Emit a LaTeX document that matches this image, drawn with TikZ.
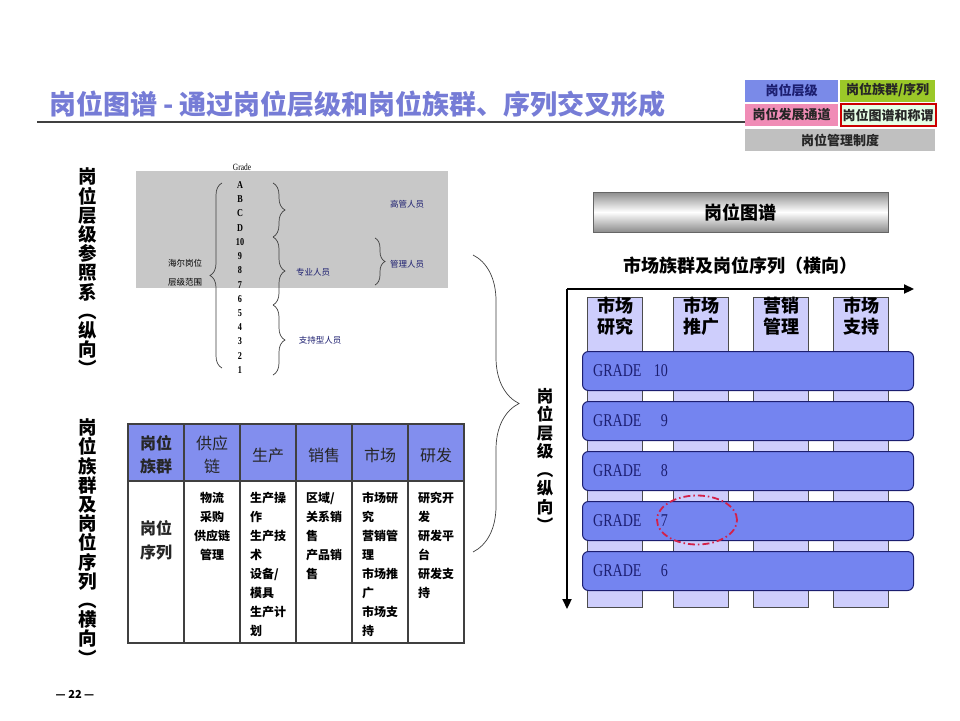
\documentclass[tikz,border=0pt]{standalone}
\usepackage{fontspec}
\setmainfont{Noto Sans CJK SC}
\newfontfamily\gradefont[FakeStretch=0.78]{Liberation Serif}
\usetikzlibrary{arrows.meta,decorations.pathreplacing,shapes.geometric,positioning}
\definecolor{titleblue}{RGB}{118,124,214}
\definecolor{legblue}{RGB}{122,138,232}
\definecolor{leggreen}{RGB}{155,200,40}
\definecolor{legpink}{RGB}{240,140,182}
\definecolor{legmint}{RGB}{230,255,230}
\definecolor{leggray}{RGB}{192,192,192}
\definecolor{refgray}{RGB}{200,200,200}
\definecolor{headblue}{RGB}{130,142,238}
\definecolor{barblue}{RGB}{116,132,240}
\definecolor{collav}{RGB}{206,206,252}
\definecolor{navytext}{RGB}{28,30,112}
\definecolor{ringred}{RGB}{212,32,72}
\tikzset{
  legend box/.style={minimum height=22pt,inner sep=0pt,text=black!85,font=\fontsize{13}{14}\selectfont\bfseries},
  vert label/.style={align=center,inner sep=0pt,font=\fontsize{18.5}{19.2}\selectfont\bfseries},
  grade item/.style={inner sep=0pt,font=\gradefont\fontsize{10.5}{10.5}\selectfont\bfseries},
  small cjk/.style={inner sep=0pt,font=\fontsize{8.5}{10}\selectfont},
  level brace/.style={decorate,decoration={brace,amplitude=#1},draw=black!75,line width=0.7pt},
  table line/.style={draw=black!75,line width=1.3pt},
  head text/.style={align=center,inner sep=0pt,text=black!85,font=\fontsize{16}{23}\selectfont},
  cell text/.style={inner sep=0pt,font=\fontsize{12}{19}\selectfont\bfseries},
  family col/.style={draw=black!70,fill=collav,line width=1pt,inner sep=0pt,minimum width=55pt,minimum height=310pt},
  col text/.style={align=center,inner sep=0pt,font=\fontsize{18}{21}\selectfont\bfseries},
  grade bar/.style={draw=navytext,fill=barblue,rounded corners=6pt,line width=1pt,minimum width=331pt,minimum height=39pt,inner sep=0pt},
  grade text/.style={inner sep=0pt,text=navytext,font=\gradefont\fontsize{18}{18}\selectfont},
  axis arrow/.style={line width=2.2pt,-{Triangle[length=10pt,width=9pt]}},
}
\begin{document}
\begin{tikzpicture}[x=1pt,y=-1pt]
  \useasboundingbox[fill=white] (0,0) rectangle (960,720);
  % title
  \node[anchor=west,inner sep=0pt,text=titleblue,font=\fontsize{27}{29}\selectfont\bfseries] (title) at (49,104) {岗位图谱 - 通过岗位层级和岗位族群、序列交叉形成};
  \draw[black!75,line width=1.2pt] (37,122) -- (745,122);
  % legend
  \node[legend box,fill=legblue,minimum width=93pt,text=navytext] (lg1) at (791.5,90.5) {岗位层级};
  \node[legend box,fill=leggreen,minimum width=95pt] (lg2) at (887.5,90.5) {岗位族群/序列};
  \node[legend box,fill=legpink,minimum width=93pt] (lg3) at (791.5,114.5) {岗位发展通道};
  \node[legend box,fill=legmint,draw=red!80!black,line width=2pt,minimum width=95pt] (lg4) at (888,115) {岗位图谱和称谓};
  \node[legend box,fill=leggray,minimum width=190pt] (lg5) at (840,140) {岗位管理制度};
  % reference system (vertical)
  \node[vert label] (vref) at (88,272) {岗\\位\\层\\级\\参\\照\\系\\︵\\纵\\向\\︶};
  \fill[refgray] (136,171) rectangle (448,288);
  \node[grade item,font=\gradefont\fontsize{9.5}{9.5}\selectfont] (grade) at (242,167) {Grade};
  \foreach \g [count=\i from 0] in {A,B,C,D,10,9,8,7,6,5,4,3,2,1}
    \node[grade item] (g\i) at (240,{185+14.23*\i}) {\g};
  \draw[level brace=12pt] (222,368) -- (222,183);
  \node[small cjk] (haier1) at (185,263) {海尔岗位};
  \node[small cjk] (haier2) at (185,282) {层级范围};
  \draw[level brace=12pt] (273,183) -- (273,237);
  \draw[level brace=12pt] (273,237) -- (273,305);
  \draw[level brace=12pt] (273,305) -- (273,375);
  \draw[level brace=10pt] (375,238) -- (375,285);
  \node[small cjk,text=navytext] (exec) at (407,204) {高管人员};
  \node[small cjk,text=navytext] (mgmt) at (407,264) {管理人员};
  \node[small cjk,text=navytext] (prof) at (313,272) {专业人员};
  \node[small cjk,text=navytext] (supp) at (320,340) {支持型人员};
  % families and sequences (horizontal)
  \node[vert label] (vfam) at (88,542) {岗\\位\\族\\群\\及\\岗\\位\\序\\列\\︵\\横\\向\\︶};
  \fill[headblue] (128,424) rectangle (464,481);
  \draw[table line] (128,424) rectangle (464,643);
  \draw[table line] (128,481) -- (464,481);
  \foreach \x in {184,240,296,352,408}
    \draw[table line] (\x,424) -- (\x,643);
  \node[head text,font=\fontsize{16}{23}\selectfont\bfseries] (h1) at (156,455) {岗位\\族群};
  \foreach \t [count=\i from 2] in {供应\\链,生产,销售,市场,研发}
    \node[head text] (h\i) at ({128+56*(\i-0.5)},455) {\t};
  \node[head text,font=\fontsize{16}{24}\selectfont\bfseries] (s1) at (156,540) {岗位\\序列};
  \node[cell text,anchor=north,align=center] (s2) at (212,492) {物流\\采购\\供应链\\管理};
  \node[cell text,anchor=north west,align=left] (s3) at (250,492) {生产操\\作\\生产技\\术\\设备/\\模具\\生产计\\划};
  \node[cell text,anchor=north west,align=left] (s4) at (306,492) {区域/\\关系销\\售\\产品销\\售};
  \node[cell text,anchor=north west,align=left] (s5) at (362,492) {市场研\\究\\营销管\\理\\市场推\\广\\市场支\\持};
  \node[cell text,anchor=north west,align=left] (s6) at (418,492) {研究开\\发\\研发平\\台\\研发支\\持};
  % joining brace
  \draw[level brace=46pt] (473,255) -- (473,552);
  \node[vert label,font=\fontsize{16.5}{18.5}\selectfont\bfseries] (vlevel) at (545,460) {岗\\位\\层\\级\\︵\\纵\\向\\︶};
  % atlas
  \node[draw=black!60,line width=1pt,top color=black!45,bottom color=black!45,middle color=white,
        minimum width=295pt,minimum height=40pt,inner sep=0pt,font=\fontsize{18}{18}\selectfont\bfseries] (atlas) at (740.5,212) {岗位图谱};
  \node[inner sep=0pt,font=\fontsize{18}{18}\selectfont\bfseries] (market) at (740,266) {市场族群及岗位序列（横向）};
  \coordinate (origin) at (567,289);
  \coordinate (xend) at (914,289);
  \coordinate (yend) at (567,609);
  \foreach \x/\a/\b [count=\i] in {587/市场/研究,673/市场/推广,753/营销/管理,833/市场/支持}{
    \node[family col,anchor=north west] (c\i) at (\x,297) {};
    \node[col text] (ct\i) at ([yshift=-19pt]c\i.north) {\a\\\b};
  }
  \draw[axis arrow] (origin) -- (xend);
  \draw[axis arrow] (origin) -- (yend);
  \foreach \g/\y in {10/351,9/401,8/451,7/501,6/551}{
    \node[grade bar,anchor=north west] (bar\g) at (582,\y) {};
    \node[grade text,anchor=west] (gl\g) at ([xshift=11pt]bar\g.west) {GRADE};
    \node[grade text,anchor=east] (gn\g) at ([xshift=86pt]bar\g.west) {\g};
  }
  \node[ellipse,draw=ringred,line width=1.8pt,dash pattern=on 7pt off 3pt on 1.5pt off 3pt,
        minimum width=80pt,minimum height=49pt,inner sep=0pt] (focus) at (697,520) {};
  % page number
  \node[inner sep=0pt,font=\fontsize{11}{11}\selectfont\bfseries] (page) at (75,694) {— 22 —};
\end{tikzpicture}
\end{document}
